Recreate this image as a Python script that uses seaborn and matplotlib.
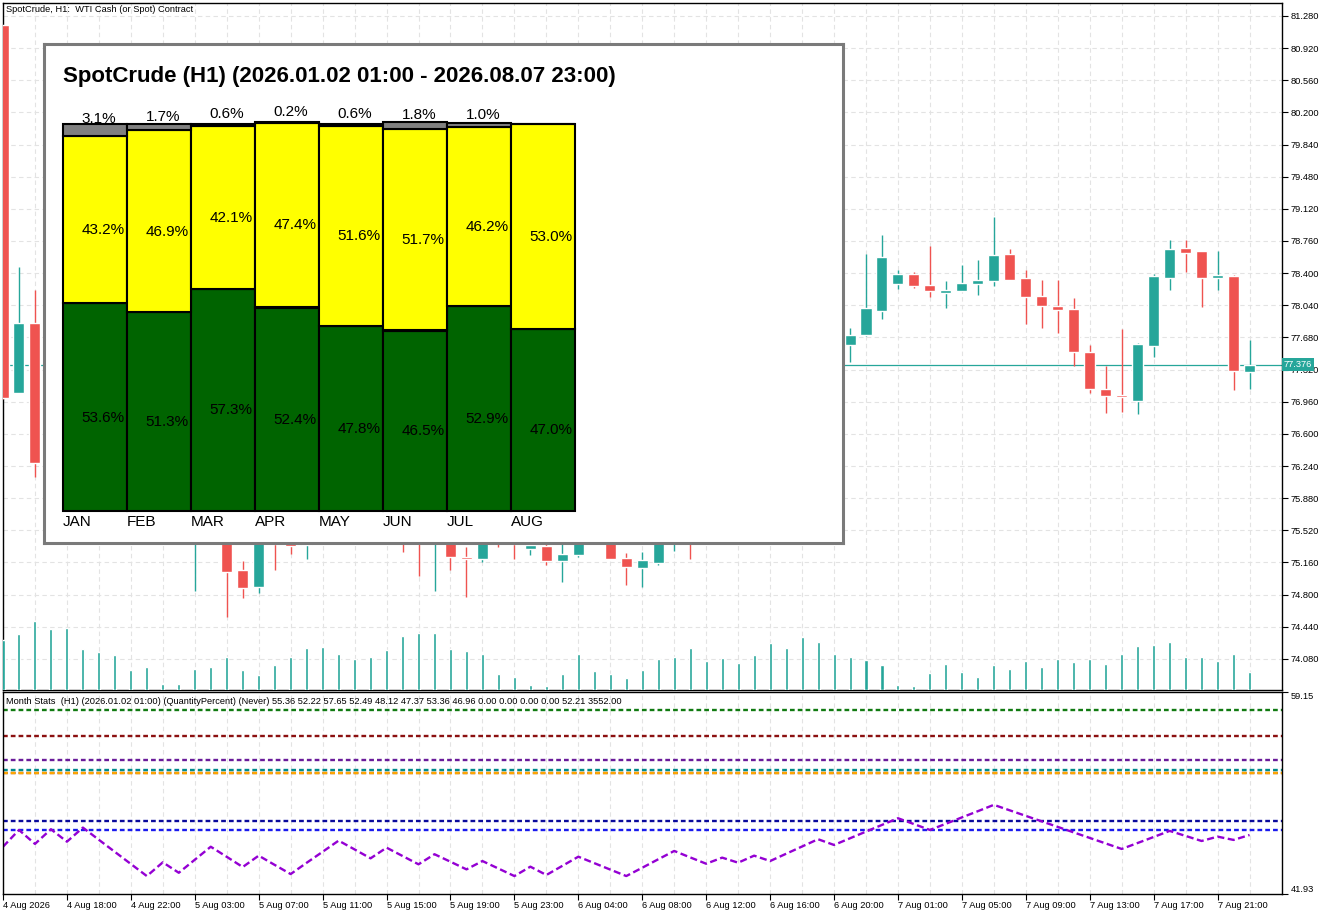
import matplotlib
matplotlib.use("Agg")
import matplotlib.pyplot as plt
from matplotlib.ticker import MultipleLocator
import numpy as np
import pandas as pd
import seaborn as sns

# ---- H1 bars, 4 Aug 14:00 .. 7 Aug 23:00 (bar index = position on the chart)
opens = [81.18, 77.061, 77.839, 76.28, 76.45, 76.10, 76.30, 76.05, 75.90, 75.78,
         75.68, 75.78, 75.55, 75.70, 75.85, 75.076, 74.889, 75.60, 75.45, 75.36,
         75.65, 75.78, 75.92, 75.80, 75.65, 75.72, 75.50, 75.42, 75.68, 75.225,
         75.203, 75.52, 75.42, 75.315, 75.345, 75.180, 75.247, 75.52, 75.45, 75.21,
         75.102, 75.158, 75.48, 75.62, 75.50, 75.42, 75.85, 75.70, 76.20, 76.05,
         76.60, 77.10, 77.70, 77.599, 77.708, 77.980, 78.282, 78.391, 78.268, 78.181,
         78.204, 78.282, 78.316, 78.615, 78.346, 78.144, 78.032, 77.999, 77.517, 77.103,
         77.036, 76.972, 77.588, 78.349, 78.682, 78.648, 78.349, 78.368, 77.297]
highs = [81.18, 78.469, 78.212, 76.55, 76.52, 76.40, 76.35, 76.12, 75.98, 75.85,
         75.85, 75.82, 75.80, 75.95, 75.90, 75.177, 75.70, 75.72, 75.55, 75.75,
         75.85, 76.00, 75.98, 75.85, 75.82, 75.80, 75.58, 75.78, 75.72, 75.334,
         75.62, 75.58, 75.48, 75.45, 75.45, 75.42, 75.62, 75.60, 75.52, 75.266,
         75.278, 75.55, 75.70, 75.72, 75.58, 75.90, 75.95, 76.30, 76.35, 76.70,
         77.25, 77.85, 77.80, 77.786, 78.615, 78.827, 78.436, 78.413, 78.704, 78.312,
         78.492, 78.548, 79.029, 78.671, 78.436, 78.324, 78.324, 78.122, 77.596, 77.364,
         77.775, 77.615, 78.391, 78.771, 78.771, 78.648, 78.648, 78.380, 77.652]
lows = [76.99, 77.06, 76.121, 76.20, 76.00, 76.02, 75.95, 75.80, 75.70, 75.60,
        75.62, 75.55, 74.844, 75.60, 74.553, 74.766, 74.822, 75.076, 75.255, 75.199,
        75.55, 75.70, 75.72, 75.58, 75.55, 75.281, 75.012, 74.844, 75.076, 74.777,
        75.169, 75.337, 75.203, 75.247, 75.135, 74.945, 75.225, 75.40, 75.20, 74.912,
        74.889, 75.135, 75.292, 75.203, 75.37, 75.40, 75.60, 75.65, 75.95, 76.00,
        76.50, 77.00, 77.50, 77.409, 77.70, 77.887, 78.226, 78.237, 78.137, 78.013,
        78.20, 78.159, 78.260, 78.32, 77.834, 77.789, 77.733, 77.364, 77.061, 76.838,
        76.849, 76.826, 77.465, 78.215, 78.416, 78.025, 78.215, 77.095, 77.106]
closes = [77.006, 77.839, 76.278, 76.45, 76.10, 76.30, 76.05, 75.90, 75.78, 75.68,
          75.78, 75.62, 75.70, 75.85, 75.057, 74.878, 75.60, 75.367, 75.348, 75.65,
          75.78, 75.92, 75.80, 75.65, 75.72, 75.50, 75.42, 75.68, 75.225, 75.203,
          75.52, 75.42, 75.37, 75.356, 75.180, 75.255, 75.52, 75.45, 75.203, 75.113,
          75.188, 75.48, 75.62, 75.50, 75.42, 75.85, 75.70, 76.20, 76.05, 76.60,
          77.10, 77.70, 77.60, 77.708, 78.010, 78.581, 78.391, 78.256, 78.204, 78.215,
          78.290, 78.324, 78.604, 78.324, 78.137, 78.036, 77.991, 77.521, 77.106, 77.028,
          77.017, 77.607, 78.368, 78.671, 78.629, 78.349, 78.380, 77.308, 77.376]
volumes = [1250, 1400, 1725, 1525, 1550, 1025, 950, 875, 500, 575,
           150, 150, 525, 575, 825, 500, 375, 625, 825, 1050,
           1075, 900, 775, 825, 1000, 1350, 1425, 1425, 1025, 975,
           900, 400, 325, 125, 100, 400, 900, 475, 400, 300,
           500, 775, 825, 1050, 725, 800, 675, 875, 1175, 1050,
           1325, 1200, 900, 825, 750, 625, 125, 100, 425, 650,
           450, 325, 625, 525, 725, 575, 775, 700, 775, 650,
           900, 1100, 1125, 1200, 825, 825, 725, 900, 450]
# running bullish share of the current month (indicator window)
aug_running = [45.96, 47.39, 46.20, 47.45, 46.39, 47.59, 46.55, 45.52, 44.49, 43.46,
               44.63, 43.74, 44.85, 45.96, 45.10, 44.23, 45.20, 44.41, 43.63, 44.59,
               45.53, 46.48, 45.73, 44.97, 45.88, 45.17, 44.46, 45.32, 44.68, 44.03,
               44.74, 44.10, 43.46, 44.26, 43.55, 44.33, 45.11, 44.56, 44.01, 43.46,
               44.17, 44.89, 45.60, 45.05, 44.51, 45.03, 44.60, 45.20, 44.74, 45.36,
               45.98, 46.60, 46.11, 46.68, 47.25, 47.82, 48.39, 47.89, 47.39, 47.92,
               48.46, 48.99, 49.53, 49.06, 48.59, 48.12, 47.65, 47.18, 46.71, 46.24,
               45.77, 46.28, 46.79, 47.31, 46.88, 46.45, 46.82, 46.54, 46.96]
time_labels = ["4 Aug 2026", "4 Aug 18:00", "4 Aug 22:00", "5 Aug 03:00", "5 Aug 07:00",
               "5 Aug 11:00", "5 Aug 15:00", "5 Aug 19:00", "5 Aug 23:00", "6 Aug 04:00",
               "6 Aug 08:00", "6 Aug 12:00", "6 Aug 16:00", "6 Aug 20:00", "7 Aug 01:00",
               "7 Aug 05:00", "7 Aug 09:00", "7 Aug 13:00", "7 Aug 17:00", "7 Aug 21:00"]
price_ticks = [74.08, 74.44, 74.80, 75.16, 75.52, 75.88, 76.24, 76.60, 76.96, 77.32,
               77.68, 78.04, 78.40, 78.76, 79.12, 79.48, 79.84, 80.20, 80.56, 80.92, 81.28]
last_price = 77.376

# ---- month statistics
months = ["JAN", "FEB", "MAR", "APR", "MAY", "JUN", "JUL", "AUG"]
bull_pct = [53.6, 51.3, 57.3, 52.4, 47.8, 46.5, 52.9, 47.0]
other_pct = [0.0, 0.0, 0.0, 0.3, 0.0, 0.3, 0.0, 0.0]
bear_pct = [43.2, 46.9, 42.1, 47.4, 51.6, 51.7, 46.2, 53.0]
flat_pct = [3.1, 1.7, 0.6, 0.2, 0.6, 1.8, 1.0, 0.0]
month_levels = [55.36, 52.22, 57.65, 52.49, 48.12, 47.37, 53.36]
level_colors = ["#8b1010", "#ffa500", "#117a11", "#008b8b", "#0a0a9c", "#1a1aee", "#6a1b9a"]
avg_level = 52.21

sns.set_style("white")
plt.rcParams["font.family"] = ["Liberation Sans", "DejaVu Sans"]
plt.rcParams.update({"text.color": "black", "xtick.color": "black",
                     "ytick.color": "black", "axes.labelcolor": "black"})

teal = "#26a69a"
red = "#ef5350"
W, H = 1330, 915


def box(x0, y0, x1, y1):
    return [x0 / W, 1 - y1 / H, (x1 - x0) / W, (y1 - y0) / H]


df = pd.DataFrame({"o": opens, "h": highs, "l": lows, "c": closes, "v": volumes})
df["i"] = np.arange(len(df))
df["col"] = np.where(df["c"] >= df["o"], teal, red)

fig = plt.figure(figsize=(13.3, 9.15), dpi=100)
ax = fig.add_axes(box(3, 3, 1282, 690))
ind = fig.add_axes(box(3, 692, 1282, 894), sharex=ax)

ax.set_xlim(0.1, 80.03)
ax.set_ylim(73.732, 81.425)

# volumes behind
axv = ax.twinx()
axv.bar(df["i"], df["v"], width=0.19, color=teal, zorder=2)
axv.set_ylim(0, 17175)
axv.set_yticks([])
for s in axv.spines.values():
    s.set_visible(False)

# candles
ax.vlines(df["i"], df["l"], df["h"], colors=df["col"], lw=1.0, zorder=3)
body = (df["c"] - df["o"]).abs().clip(lower=0.012)
ax.bar(df["i"], body, bottom=df[["o", "c"]].min(axis=1), width=0.69,
       color=df["col"], zorder=4)
ax.axhline(last_price, color=teal, lw=0.9, zorder=2)

ax.yaxis.tick_right()
ax.set_yticks(price_ticks)
ax.set_yticklabels([f"{t:.3f}" for t in price_ticks])
ax.tick_params(axis="y", right=True, left=False, labelright=True, labelleft=False,
               direction="out", length=4, width=0.8, labelsize=6.7, pad=2)
ax.text(1.0015, last_price, f"{last_price:.3f}", transform=ax.get_yaxis_transform(),
        ha="left", va="center", fontsize=6.7, color="white", zorder=20, clip_on=False,
        bbox=dict(boxstyle="square,pad=0.25", fc=teal, ec="none"))

ind.set_xticks(range(0, 80, 4))
ind.set_xticklabels(time_labels)
ind.xaxis.set_minor_locator(MultipleLocator(2))
ax.tick_params(axis="x", which="both", bottom=False, labelbottom=False)
ind.tick_params(axis="x", which="major", bottom=True, direction="out", length=4,
                width=0.8, labelsize=6.7, pad=1)
ind.tick_params(axis="x", which="minor", length=0)
for lbl in ind.get_xticklabels():
    lbl.set_ha("left")

grid_style = dict(color="#e3e3e3", ls=(0, (4, 3)), lw=0.8)
ax.grid(True, axis="y", **grid_style)
ax.grid(True, axis="x", which="both", **grid_style)
ind.grid(True, axis="x", which="both", **grid_style)

for a in (ax, ind):
    for s in a.spines.values():
        s.set_color("black")
        s.set_linewidth(1.0)

# indicator window
ind.set_ylim(41.93, 59.15)
ind.yaxis.tick_right()
ind.set_yticks([41.93, 59.15])
ind.set_yticklabels(["41.93", "59.15"])
ind.tick_params(axis="y", right=True, left=False, labelright=True, labelleft=False,
                direction="out", length=4, width=0.8, labelsize=6.7, pad=2)
yl = ind.get_yticklabels()
yl[0].set_va("bottom")
yl[1].set_va("top")

dash = (0, (2, 1.3))
ind.axhline(avg_level, color="#8b4513", ls=dash, lw=1.7)
for lvl, c in zip(month_levels, level_colors):
    ind.axhline(lvl, color=c, ls=dash, lw=1.7)
sns.lineplot(x=df["i"], y=aug_running, ax=ind, color="#9400d3", lw=1.7,
             linestyle=(0, (3, 1.5)))
ind.set_xlabel("")
ind.set_ylabel("")

fig.text(6 / W, 1 - 9 / H, "SpotCrude, H1:  WTI Cash (or Spot) Contract",
         fontsize=6.7, va="center")
stats_vals = month_levels + [46.96, 0.0, 0.0, 0.0, 0.0, avg_level, 3552.0]
fig.text(6 / W, 1 - 701 / H,
         "Month Stats  (H1) (2026.01.02 01:00) (QuantityPercent) (Never) "
         + " ".join(f"{v:.2f}" for v in stats_vals),
         fontsize=6.7, va="center")

# ---- overlay panel with month bars
panel = fig.add_axes(box(44, 44, 843, 543), zorder=10)
panel.set_facecolor("white")
panel.set_xticks([])
panel.set_yticks([])
for s in panel.spines.values():
    s.set_color("#7a7a7a")
    s.set_linewidth(2.2)
panel.text((63 - 44) / 799, 1 - (77 - 44) / 499,
           "SpotCrude (H1) (2026.01.02 01:00 - 2026.08.07 23:00)",
           transform=panel.transAxes, fontsize=16, fontweight="bold", va="center",
           color="black")

bx = fig.add_axes(box(63, 123.5, 575, 511), zorder=11)
bx.axis("off")
bx.set_xlim(0, 8)
bx.set_ylim(0, 100)
xpos = np.arange(len(months))
bottom = np.zeros(len(months))
layers = [(bull_pct, "#006400", -2.7), (other_pct, "white", None),
          (bear_pct, "#ffff00", -2.7), (flat_pct, "#808080", 2.7)]
for vals, col, off in layers:
    vals = np.array(vals)
    bx.bar(xpos, vals, bottom=bottom, width=1, align="edge", color=col,
           edgecolor="black", lw=1.5, clip_on=False)
    if off is not None:
        for i, v in enumerate(vals):
            if v > 0:
                bx.text(i + 0.29, bottom[i] + v / 2 + off, f"{v:.1f}%",
                        ha="left", va="center", fontsize=11, color="black")
    bottom = bottom + vals
for i, m in enumerate(months):
    bx.text(i, -2.9, m, ha="left", va="center", fontsize=11, color="black")

fig.savefig("out.png", dpi=100)
